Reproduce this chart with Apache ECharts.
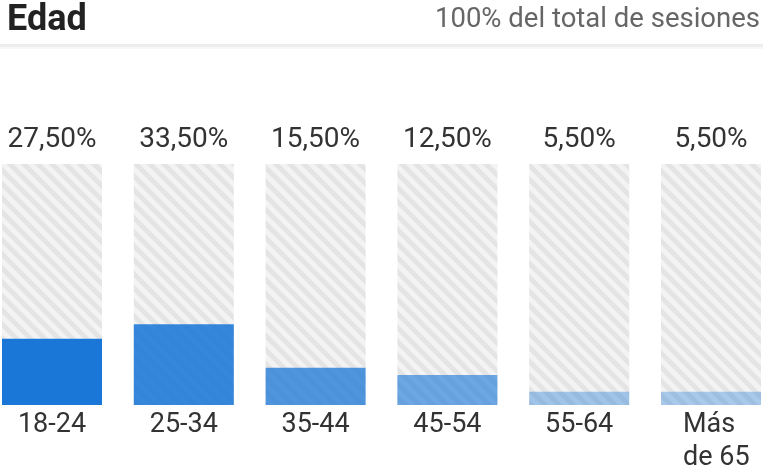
<!DOCTYPE html>
<html>
<head>
<meta charset="utf-8">
<script src="https://cdn.jsdelivr.net/npm/echarts@6/dist/echarts.min.js"></script>
<style>
html,body{margin:0;padding:0;background:#fff;}
#c{width:763px;height:473px;}
</style>
</head>
<body>
<div id="c"></div>
<script>
// Data
var categories = ['18-24', '25-34', '35-44', '45-54', '55-64', 'Más\nde 65'];
var values = [27.5, 33.5, 15.5, 12.5, 5.5, 5.5];
var barOpacity = [1, 0.88, 0.76, 0.62, 0.38, 0.34];
var titleText = 'Edad';
var subtitleText = '100% del total de sesiones';

function makePattern() {
  var s = 14;
  var cv = document.createElement('canvas');
  cv.width = s; cv.height = s;
  var ctx = cv.getContext('2d');
  ctx.fillStyle = '#f3f3f3';
  ctx.fillRect(0, 0, s, s);
  ctx.strokeStyle = '#e4e4e4';
  ctx.lineWidth = 5;
  for (var c = -s; c <= s; c += s) {
    ctx.beginPath();
    ctx.moveTo(-2, -2 + c);
    ctx.lineTo(s + 2, s + 2 + c);
    ctx.stroke();
  }
  return cv;
}
var pattern = makePattern();

function fmt(v) { return v.toFixed(2).replace('.', ',') + '%'; }

var chart = echarts.init(document.getElementById('c'), null, {renderer: 'canvas'});
chart.setOption({
  animation: false,
  backgroundColor: '#ffffff',
  graphic: [
    {type: 'text', left: 7, top: 3, style: {text: titleText, font: 'bold 36px Roboto', fill: '#222'}},
    {type: 'text', right: 3, top: 6, style: {text: subtitleText, font: '27.5px Roboto', fill: '#666', textAlign: 'right'}},
    {type: 'rect', left: 0, top: 44, shape: {width: 763, height: 3}, style: {fill: '#ededed'}},
    {type: 'rect', left: 0, top: 47, shape: {width: 763, height: 2}, style: {fill: '#f7f7f7'}}
  ],
  grid: {left: -13.9, right: -13.9, top: 164, bottom: 68, containLabel: false, outerBoundsMode: 'none'},
  xAxis: {
    type: 'category',
    data: categories,
    axisLine: {show: false},
    axisTick: {show: false},
    axisLabel: {
      interval: 0,
      margin: 4,
      fontFamily: 'Roboto',
      fontSize: 27,
      color: '#333',
      lineHeight: 33,
      hideOverlap: false,
      formatter: function (v) {
        if (v.indexOf('\n') >= 0) {
          return v.split('\n').map(function (p) { return '{l|' + p + '}'; }).join('\n');
        }
        return v;
      },
      rich: {l: {width: 56, align: 'left', fontFamily: 'Roboto', fontSize: 27, color: '#333', lineHeight: 33}}
    }
  },
  yAxis: {type: 'value', min: 0, max: 100, show: false, splitLine: {show: false}},
  series: [
    {
      type: 'bar',
      barWidth: 100,
      barGap: '-100%',
      silent: true,
      data: categories.map(function () { return 100; }),
      itemStyle: {color: {image: pattern, repeat: 'repeat'}},
      label: {
        show: true,
        position: 'top',
        distance: 10,
        fontFamily: 'Roboto',
        fontSize: 28,
        color: '#333',
        formatter: function (p) { return fmt(values[p.dataIndex]); }
      },
      z: 1
    },
    {
      type: 'bar',
      barWidth: 100,
      barGap: '-100%',
      data: values.map(function (v, i) {
        return {value: v, itemStyle: {color: '#1a77d8', opacity: barOpacity[i]}};
      }),
      z: 2
    }
  ]
});
</script>
</body>
</html>
